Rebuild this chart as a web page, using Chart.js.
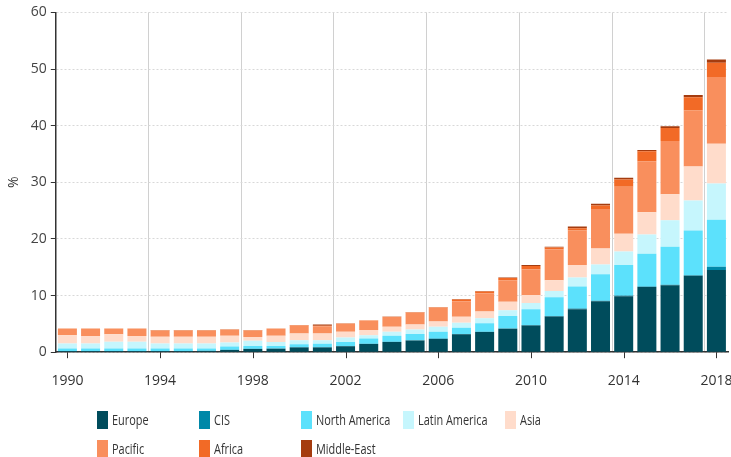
<!DOCTYPE html>
<html>
<head>
    <title>Share by region</title>
    <script src="https://cdn.jsdelivr.net/npm/chart.js@4.4.1/dist/chart.umd.min.js"></script>
    <style>
        body {
            margin: 0;
            background: #FFFFFF;
            font-family: "Open Sans", Arial, sans-serif;
        }
        #wrap {
            position: relative;
            width: 731px;
            height: 457px;
        }
        #legend {
            position: absolute;
            left: 97px;
            top: 410px;
            display: grid;
            grid-template-columns: repeat(5, 102px);
            row-gap: 10px;
            font-size: 14px;
            color: #333;
        }
        .item {
            display: flex;
            align-items: center;
            height: 19px;
            white-space: nowrap;
        }
        .box {
            width: 11px;
            height: 18px;
            margin-right: 4px;
            flex: none;
        }
        .txt {
            display: inline-block;
            transform: scaleX(0.78);
            transform-origin: left center;
        }
    </style>
</head>
<body>
<div id="wrap">
    <canvas id="chart" width="731" height="457"></canvas>
    <div id="legend"></div>
</div>

<script type="text/javascript">
    const years = [];
    for (let y = 1990; y <= 2018; y++) years.push(String(y));

    const regions = ['Europe', 'CIS', 'North America', 'Latin America', 'Asia', 'Pacific', 'Africa', 'Middle-East'];
    const colors = ['#004c5c', '#0088a8', '#5ce1fc', '#c6f6fd', '#ffdccb', '#f98f5d', '#f26a26', '#a53c0f'];

    // values, 1990 .. 2018
    const europe = [0.15, 0.15, 0.15, 0.15, 0.15, 0.15, 0.2, 0.4, 0.55, 0.6, 0.85, 0.85, 1.05, 1.45, 1.8, 2.05, 2.35, 3.15, 3.55, 4.15, 4.7, 6.3, 7.6, 9.0, 9.9, 11.5, 11.8, 13.5, 14.5];
    const cis = [0.05, 0.05, 0.05, 0.05, 0.05, 0.05, 0.05, 0.05, 0.05, 0.05, 0.05, 0.05, 0.05, 0.05, 0.05, 0.05, 0.05, 0.05, 0.05, 0.05, 0.1, 0.1, 0.1, 0.1, 0.1, 0.1, 0.1, 0.1, 0.6];
    const northAmerica = [0.45, 0.45, 0.45, 0.45, 0.45, 0.45, 0.4, 0.55, 0.5, 0.45, 0.5, 0.6, 0.7, 0.9, 1.05, 1.1, 1.2, 1.1, 1.5, 2.2, 2.8, 3.3, 3.9, 4.65, 5.4, 5.8, 6.7, 7.9, 8.3];
    const latinAmerica = [0.9, 0.9, 1.2, 1.2, 0.9, 0.9, 0.9, 0.7, 0.9, 0.7, 0.7, 0.6, 0.8, 0.6, 0.7, 0.8, 0.9, 0.9, 0.9, 1.0, 1.1, 1.1, 1.6, 1.75, 2.4, 3.4, 4.7, 5.3, 6.4];
    const asia = [1.45, 1.3, 1.3, 1.0, 1.2, 1.2, 1.2, 1.2, 0.7, 1.1, 1.2, 1.2, 1.0, 0.9, 0.9, 0.9, 0.9, 1.05, 1.2, 1.5, 1.4, 1.9, 2.2, 2.8, 3.1, 3.9, 4.6, 6.0, 7.0];
    const pacific = [1.15, 1.3, 1.0, 1.3, 1.1, 1.1, 1.1, 1.1, 1.15, 1.25, 1.45, 1.3, 1.45, 1.7, 1.75, 2.1, 2.5, 2.75, 3.2, 3.8, 4.5, 5.5, 6.1, 7.0, 8.3, 9.0, 9.4, 9.9, 11.8];
    const africa = [0.03, 0.03, 0.03, 0.03, 0.03, 0.03, 0.03, 0.03, 0.03, 0.03, 0.03, 0.05, 0.03, 0.03, 0.03, 0.05, 0.05, 0.3, 0.3, 0.4, 0.6, 0.3, 0.4, 0.6, 1.3, 1.8, 2.3, 2.3, 2.5];
    const middleEast = [0.02, 0.02, 0.02, 0.02, 0.02, 0.02, 0.02, 0.02, 0.02, 0.02, 0.02, 0.25, 0.02, 0.02, 0.02, 0.05, 0.05, 0.1, 0.1, 0.1, 0.2, 0.1, 0.3, 0.3, 0.3, 0.2, 0.3, 0.4, 0.6];

    const series = [europe, cis, northAmerica, latinAmerica, asia, pacific, africa, middleEast];

    const yTicks = [0, 10, 20, 30, 40, 50, 60];

    // tick marks sit on the labels, gridlines sit between bars
    const tickMarks = {
        id: 'tickMarks',
        afterDraw(chart) {
            const sx = chart.scales.x;
            const ctx = chart.ctx;
            ctx.save();
            ctx.strokeStyle = '#333';
            ctx.lineWidth = 1;
            for (let i = 0; i < years.length; i += 4) {
                const x = Math.round(sx.getPixelForTick(i)) + 0.5;
                ctx.beginPath();
                ctx.moveTo(x, sx.top);
                ctx.lineTo(x, sx.top + 6);
                ctx.stroke();
            }
            ctx.restore();
        }
    };

    Chart.defaults.font.family = '"Open Sans", Arial, sans-serif';
    Chart.defaults.font.size = 14;
    Chart.defaults.color = '#444';

    let chart = new Chart(document.getElementById('chart').getContext('2d'), {
        type: 'bar',
        data: {
            labels: years,
            datasets: regions.map((name, i) => ({
                label: name,
                data: series[i],
                backgroundColor: colors[i],
                borderWidth: 0,
                barPercentage: 0.82,
                categoryPercentage: 1
            }))
        },
        options: {
            responsive: false,
            animation: false,
            layout: { padding: { top: 11, right: 3, bottom: 48, left: 2 } },
            plugins: {
                legend: { display: false },
                tooltip: { enabled: false }
            },
            scales: {
                x: {
                    stacked: true,
                    afterFit: scale => { scale.paddingRight = 0; },
                    grid: {
                        offset: true,
                        drawTicks: false,
                        color: ctx => (ctx.index % 4 === 0 ? '#d0d0d0' : 'rgba(0,0,0,0)')
                    },
                    border: { color: '#333', width: 1.5 },
                    ticks: {
                        autoSkip: false,
                        maxRotation: 0,
                        padding: 20,
                        color: '#333',
                        callback: (v, i) => (i % 4 === 0 ? years[i] : '')
                    }
                },
                y: {
                    stacked: true,
                    min: 0,
                    max: 60,
                    afterBuildTicks: axis => { axis.ticks = yTicks.map(v => ({ value: v })); },
                    grid: {
                        color: '#d8d8d8',
                        tickColor: '#333',
                        tickLength: 5
                    },
                    border: { color: '#333', width: 1.5, dash: [2, 2] },
                    ticks: { padding: 4, color: '#444' },
                    title: { display: true, text: '%', color: '#333', font: { size: 14 }, padding: 4 }
                }
            }
        },
        plugins: [tickMarks]
    });

    const legend = document.getElementById('legend');
    regions.forEach((name, i) => {
        const item = document.createElement('div');
        item.className = 'item';
        item.innerHTML = '<span class="box" style="background:' + colors[i] + '"></span><span class="txt">' + name + '</span>';
        legend.appendChild(item);
    });
</script>
</body>
</html>
